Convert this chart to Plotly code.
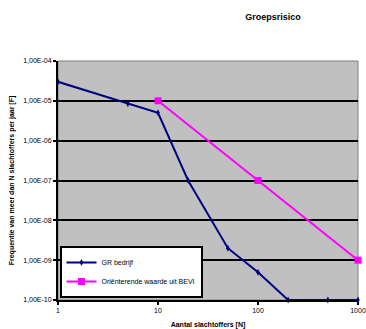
import plotly.graph_objects as go

gr_x = [1, 5, 10, 20, 50, 100, 200, 500, 1000]
gr_y = [3e-5, 8.5e-6, 5e-6, 1e-7, 2e-9, 5e-10, 1e-10, 1e-10, 1e-10]
bevi_x = [10, 100, 1000]
bevi_y = [1e-5, 1e-7, 1e-9]

y_ticks = [1e-10, 1e-9, 1e-8, 1e-7, 1e-6, 1e-5, 1e-4]
y_labels = ["1,00E-10", "1,00E-09", "1,00E-08", "1,00E-07", "1,00E-06", "1,00E-05", "1,00E-04"]
x_ticks = [1, 10, 100, 1000]
x_labels = ["1", "10", "100", "1000"]

font = "Liberation Sans, Arial, sans-serif"

fig = go.Figure()
fig.add_trace(go.Scatter(x=gr_x, y=gr_y, mode="lines+markers", name="GR bedrijf",
                         line=dict(color="#000080", width=2), cliponaxis=False,
                         marker=dict(symbol="diamond-tall", size=5, color="#000080")))
fig.add_trace(go.Scatter(x=bevi_x, y=bevi_y, mode="lines+markers", name="Oriënterende waarde uit BEVI",
                         line=dict(color="#FF00FF", width=2), cliponaxis=False,
                         marker=dict(symbol="square", size=7, color="#FF00FF")))

fig.update_layout(
    width=366, height=329,
    margin=dict(l=58, r=8, t=61, b=29),
    paper_bgcolor="white", plot_bgcolor="#C0C0C0",
    font=dict(family=font, size=7, color="black"),
    title=dict(text="<b>Groepsrisico</b>", x=273/366, xanchor="center", y=1 - 17/329, yanchor="middle",
               font=dict(size=9, family=font)),
    showlegend=True,
    legend=dict(x=0.005, y=0.008, xanchor="left", yanchor="bottom", bgcolor="white",
                bordercolor="black", borderwidth=2, font=dict(size=7, family=font),
                itemwidth=30, tracegroupgap=0),
    xaxis=dict(type="log", range=[0, 3], tickvals=x_ticks, ticktext=x_labels, automargin=False,
               showgrid=False, zeroline=False, showline=True, linecolor="black", linewidth=2,
               ticks="outside", ticklen=3, tickcolor="black", tickwidth=2,
               title=dict(text="<b>Aantal slachtoffers [N]</b>", font=dict(size=7), standoff=9)),
    yaxis=dict(type="log", range=[-10, -4], tickvals=y_ticks, ticktext=y_labels, automargin=False,
               showgrid=True, gridcolor="black", gridwidth=2, zeroline=False,
               showline=True, linecolor="black", linewidth=2,
               ticks="outside", ticklen=3, tickcolor="black", tickwidth=2,
               title=dict(text="<b>Frequentie van meer dan N slachtoffers per jaar [F]</b>",
                          font=dict(size=7), standoff=8)),
)
fig.add_shape(type="rect", xref="paper", yref="paper", x0=0, x1=1, y0=0, y1=1,
              line=dict(color="#808080", width=1), layer="below")

fig.write_html("out.html", config={"displayModeBar": False},
               post_script="document.body.style.margin='0';")
